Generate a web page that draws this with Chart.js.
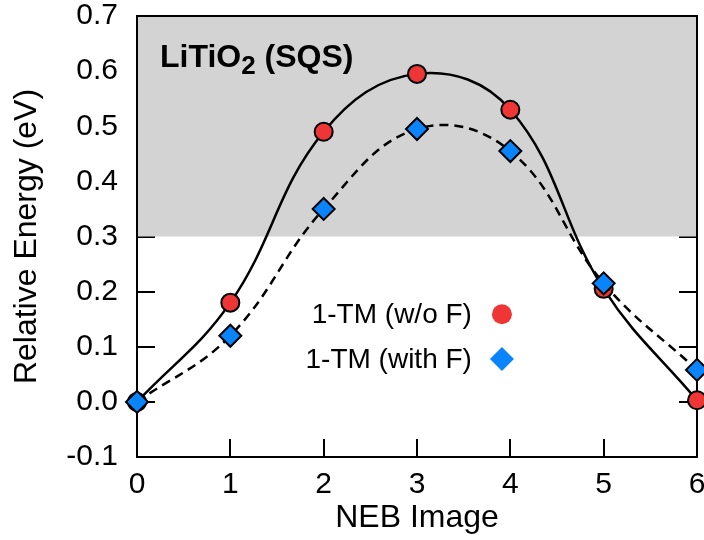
<!doctype html>
<html lang="en">
<head>
  <meta charset="utf-8">
  <title>LiTiO2 (SQS) NEB</title>
  <script src="https://cdn.jsdelivr.net/npm/chart.js"></script>
  <style>
    html, body { margin: 0; padding: 0; background: #fff; overflow: hidden; }
    #wrap { width: 704px; height: 540px; }
  </style>
</head>
<body>
  <div id="wrap"><canvas id="chart"></canvas></div>

  <script>
    // NEB images and relative energies (eV)
    const images = [0, 1, 2, 3, 4, 5, 6];
    const noF = [0.0, 0.18, 0.49, 0.595, 0.53, 0.205, 0.003];
    const withF = [0.0, 0.12, 0.35, 0.495, 0.455, 0.215, 0.058];
    const labels = ['1-TM (w/o F)', '1-TM (with F)'];
    const shadeFrom = 0.3;

    const FONT = '"Liberation Sans", Arial, Helvetica, sans-serif';
    const RED = '#ef3636';
    const BLUE = '#0a84fb';

    const pts = arr => images.map((x, i) => ({ x: x, y: arr[i] }));

    // ticks, gray band, frame, inset title and legend
    const decor = {
      id: 'decor',
      beforeDatasetsDraw(chart) {
        const { ctx, chartArea: a, scales: { x, y } } = chart;
        ctx.save();
        ctx.strokeStyle = '#000';
        ctx.lineWidth = 2;
        ctx.beginPath();
        x.ticks.forEach(t => {
          const px = Math.round(x.getPixelForValue(t.value));
          ctx.moveTo(px, a.bottom); ctx.lineTo(px, a.bottom - 18);
          ctx.moveTo(px, a.top); ctx.lineTo(px, a.top + 18);
        });
        y.ticks.forEach(t => {
          const py = Math.round(y.getPixelForValue(t.value));
          ctx.moveTo(a.left, py); ctx.lineTo(a.left + 18, py);
          ctx.moveTo(a.right, py); ctx.lineTo(a.right - 18, py);
        });
        ctx.stroke();

        const yb = y.getPixelForValue(shadeFrom);
        ctx.fillStyle = '#d3d3d3';
        ctx.fillRect(a.left, a.top, a.right - a.left, yb - a.top);

        ctx.strokeRect(a.left, a.top, a.right - a.left, a.bottom - a.top);

        // inset label LiTiO2 (SQS)
        ctx.fillStyle = '#000';
        ctx.textBaseline = 'alphabetic';
        ctx.textAlign = 'left';
        let tx = a.left + 23;
        const ty = a.top + 51;
        ctx.font = 'bold 32px ' + FONT;
        ctx.fillText('LiTiO', tx, ty);
        tx += ctx.measureText('LiTiO').width;
        ctx.font = 'bold 26px ' + FONT;
        ctx.fillText('2', tx, ty + 7);
        tx += ctx.measureText('2').width;
        ctx.font = 'bold 32px ' + FONT;
        ctx.fillText(' (SQS)', tx, ty);
        ctx.restore();
      },
      afterDatasetsDraw(chart) {
        const { ctx, scales: { x, y } } = chart;
        ctx.save();
        ctx.font = '28px ' + FONT;
        ctx.textAlign = 'right';
        ctx.textBaseline = 'middle';
        const mx = x.getPixelForValue(3.91);
        const rows = [y.getPixelForValue(0.159), y.getPixelForValue(0.078)];
        chart.data.datasets.forEach(ds => {
          const j = ds.legendRow;
          ctx.fillStyle = '#000';
          ctx.fillText(labels[j], mx - 30, rows[j] + 1);
          ctx.fillStyle = ds.pointBackgroundColor;
          ctx.strokeStyle = 'rgba(0,0,0,0)';
          ctx.lineWidth = 0;
          Chart.helpers.drawPoint(ctx, {
            pointStyle: ds.pointStyle,
            radius: ds.pointStyle === 'circle' ? 10 : 12,
            rotation: 0,
            borderWidth: 0
          }, mx, rows[j]);
        });
        ctx.restore();
      }
    };

    const ctx = document.getElementById('chart').getContext('2d');
    new Chart(ctx, {
      type: 'line',
      data: {
        datasets: [
          {
            label: labels[1],
            legendRow: 1,
            data: pts(withF),
            borderColor: '#000',
            borderWidth: 2.5,
            borderDash: [9, 6],
            tension: 0.4,
            pointStyle: 'rectRot',
            pointRadius: 11,
            pointBorderWidth: 2,
            pointBorderColor: '#000',
            pointBackgroundColor: BLUE,
            fill: false,
            clip: false,
            order: 0
          },
          {
            label: labels[0],
            legendRow: 0,
            data: pts(noF),
            borderColor: '#000',
            borderWidth: 2.5,
            tension: 0.4,
            pointStyle: 'circle',
            pointRadius: 9,
            pointBorderWidth: 2,
            pointBorderColor: '#000',
            pointBackgroundColor: RED,
            fill: false,
            clip: false,
            order: 1
          }
        ]
      },
      options: {
        responsive: true,
        maintainAspectRatio: false,
        animation: false,
        events: [],
        layout: { autoPadding: false, padding: { left: 0, right: 7, top: 16, bottom: 0 } },
        plugins: {
          legend: { display: false },
          tooltip: { enabled: false }
        },
        scales: {
          x: {
            type: 'linear',
            min: 0,
            max: 6,
            grid: { display: false, drawTicks: false },
            border: { display: false },
            ticks: {
              stepSize: 1,
              padding: 10,
              color: '#000',
              font: { family: FONT, size: 30 }
            },
            title: {
              display: true,
              text: 'NEB Image',
              color: '#000',
              padding: { top: 0, bottom: 3 },
              font: { family: FONT, size: 32 }
            },
            afterFit(scale) {
              scale.height = 83;
              scale.paddingLeft = 0;
              scale.paddingRight = 0;
            }
          },
          y: {
            min: -0.1,
            max: 0.7,
            grid: { display: false, drawTicks: false },
            border: { display: false },
            ticks: {
              stepSize: 0.1,
              padding: 19,
              color: '#000',
              font: { family: FONT, size: 30 },
              callback: v => (Math.abs(v) < 1e-9 ? 0 : v).toFixed(1)
            },
            title: {
              display: true,
              text: 'Relative Energy (eV)',
              color: '#000',
              padding: { top: 8, bottom: 0 },
              font: { family: FONT, size: 32 }
            },
            afterFit(scale) {
              scale.width = 137;
              scale.paddingTop = 0;
              scale.paddingBottom = 0;
            }
          }
        }
      },
      plugins: [decor]
    });
  </script>
</body>
</html>
